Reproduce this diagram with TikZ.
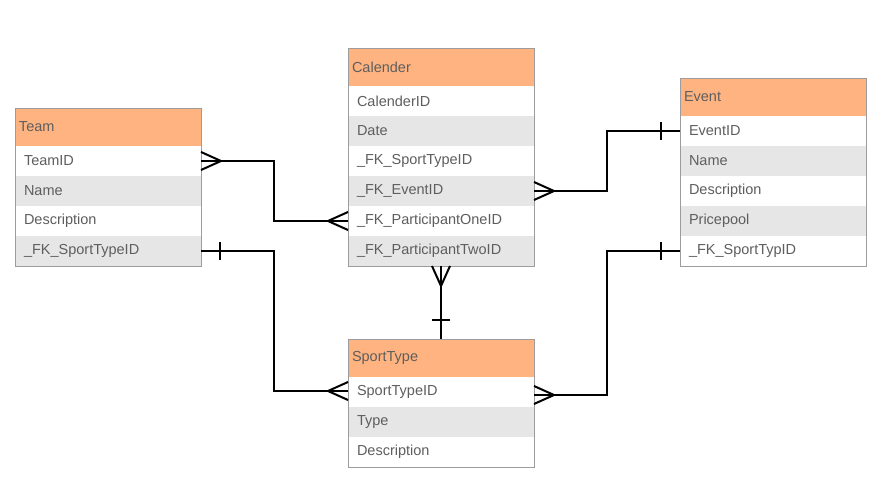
\documentclass[tikz,border=0pt]{standalone}
\usepackage{fontspec}
\setmainfont{Liberation Sans}
\usetikzlibrary{positioning, arrows.meta}
\definecolor{hdrorange}{HTML}{FFB380}
\definecolor{rowgray}{HTML}{E6E6E6}
\definecolor{txtgray}{HTML}{5E5E5E}
\definecolor{edgegray}{HTML}{9C9C9C}
\tikzset{
    header/.style={rectangle, fill=hdrorange, draw=edgegray, anchor=north west, minimum width=186pt, minimum height=38pt, text width=178pt, inner xsep=4pt, align=left, outer sep=0pt, text=txtgray, font=\fontsize{14.5}{16}\selectfont},
    field/.style={rectangle, fill=white, minimum width=186pt, minimum height=30pt, text width=168pt, inner xsep=9pt, align=left, outer sep=0pt, text=txtgray, font=\fontsize{14.5}{16}\selectfont, below=0pt of #1},
    fieldgray/.style={field=#1, fill=rowgray},
    frame/.style={draw=edgegray, line width=0.8pt},
    conn/.style={draw=black, line width=2pt},
    crow/.pic={\draw[conn] (20,0) -- (0,9) (20,0) -- (0,-9);},
    bar/.pic={\draw[conn] (19,-9) -- (19,9);}
}

\begin{document}
\begin{tikzpicture}[x=1pt, y=1pt]
        \useasboundingbox (0,0) rectangle (892,484);

        % Team - left
        \node[header] (team) at (15,376) {Team};
        \node[field=team] (team1) {TeamID};
        \node[fieldgray=team1] (team2) {Name};
        \node[field=team2] (team3) {Description};
        \node[fieldgray=team3] (team4) {\_FK\_SportTypeID};
        \draw[frame] (team.north west) rectangle (team4.south east);

        % Calender - top middle
        \node[header] (cal) at (348,436) {Calender};
        \node[field=cal] (cal1) {CalenderID};
        \node[fieldgray=cal1] (cal2) {Date};
        \node[field=cal2] (cal3) {\_FK\_SportTypeID};
        \node[fieldgray=cal3] (cal4) {\_FK\_EventID};
        \node[field=cal4] (cal5) {\_FK\_ParticipantOneID};
        \node[fieldgray=cal5] (cal6) {\_FK\_ParticipantTwoID};
        \draw[frame] (cal.north west) rectangle (cal6.south east);

        % Event - right
        \node[header] (event) at (680,406) {Event};
        \node[field=event] (event1) {EventID};
        \node[fieldgray=event1] (event2) {Name};
        \node[field=event2] (event3) {Description};
        \node[fieldgray=event3] (event4) {Pricepool};
        \node[field=event4] (event5) {\_FK\_SportTypID};
        \draw[frame] (event.north west) rectangle (event5.south east);

        % SportType - bottom middle
        \node[header] (sport) at (348,145) {SportType};
        \node[field=sport] (sport1) {SportTypeID};
        \node[fieldgray=sport1] (sport2) {Type};
        \node[field=sport2] (sport3) {Description};
        \draw[frame] (sport.north west) rectangle (sport3.south east);

        % Relations
        \draw[conn] (team1.east) -- ++(73,0) |- (cal5.west);
        \pic at (team1.east) {crow};
        \pic[rotate=180] at (cal5.west) {crow};

        \draw[conn] (team4.east) -- ++(73,0) |- ([yshift=1pt]sport1.west);
        \pic at (team4.east) {bar};
        \pic[rotate=180] at ([yshift=1pt]sport1.west) {crow};

        \draw[conn] (cal4.east) -- ++(73,0) |- (event1.west);
        \pic at (cal4.east) {crow};
        \pic[rotate=180] at (event1.west) {bar};

        \draw[conn] (event5.west) -- ++(-73,0) |- ([yshift=-3pt]sport1.east);
        \pic[rotate=180] at (event5.west) {bar};
        \pic at ([yshift=-3pt]sport1.east) {crow};

        \draw[conn] (cal6.south) -- (sport.north);
        \pic[rotate=-90] at (cal6.south) {crow};
        \pic[rotate=90] at (sport.north) {bar};

    \end{tikzpicture}
\end{document}
